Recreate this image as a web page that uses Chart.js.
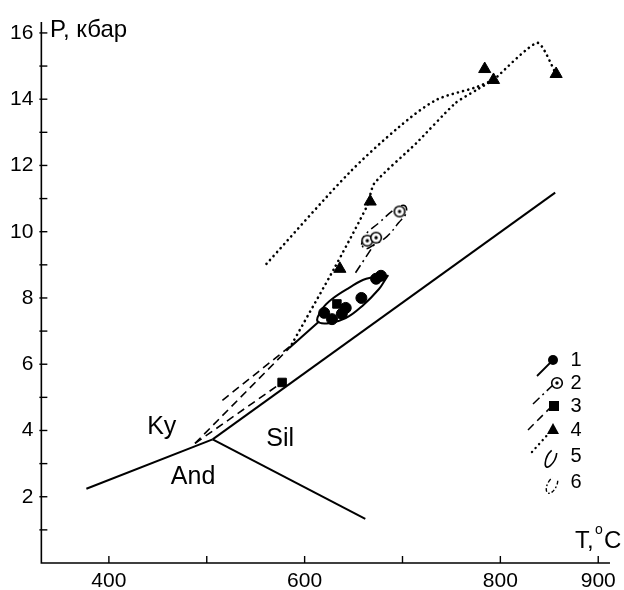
<!DOCTYPE html>
<html>
<head>
<meta charset="utf-8">
<script src="https://cdn.jsdelivr.net/npm/chart.js@4"></script>
<style>
  html, body { margin: 0; padding: 0; background: #fff; }
</style>
</head>
<body>
<canvas id="ptChart" width="624" height="590"></canvas>
<script>
// Al2SiO5 phase boundaries (T, °C / P, kbar)
const kyAndT = [377, 506], kyAndP = [2.24, 3.73];
const andSilT = [506, 662], andSilP = [3.73, 1.33];
const kySilT = [506, 856], kySilP = [3.73, 11.18];

// 1 - filled circles
const circT = [620, 628, 638, 642, 658, 673, 678];
const circP = [7.55, 7.36, 7.52, 7.70, 8.00, 8.58, 8.67];
// 2 - open circles with dot
const bullT = [664, 673, 697];
const bullP = [9.73, 9.82, 10.61];
// 3 - squares
const sqT = [577, 633];
const sqP = [5.45, 7.82];
// 4 - triangles
const triT = [636, 667, 784, 793, 857];
const triP = [8.88, 10.91, 14.91, 14.58, 14.76];

// trends
const solid1T = [584, 615], solid1P = [6.48, 7.30];
const dashAT = [488, 584], dashAP = [3.61, 6.48];
const dashBT = [516, 592], dashBP = [4.91, 6.70];
const dashCT = [488, 577], dashCP = [3.61, 5.45];
const dashDotT = [652, 671], dashDotP = [8.76, 9.61];
const dotAT = [561, 645, 696, 734, 775, 793];
const dotAP = [9.03, 11.76, 13.15, 13.97, 14.36, 14.58];
const dotBT = [587, 630, 664, 671, 714, 754, 775, 793];
const dotBP = [6.61, 8.88, 10.79, 11.45, 12.67, 13.88, 14.27, 14.58];
const dotTopT = [793, 838, 857];
const dotTopP = [14.58, 15.70, 14.76];

// fields 5 and 6 (outlines)
const field5T = [685, 663, 645, 628, 618, 613, 625, 642, 659, 676, 683, 685];
const field5P = [8.67, 8.58, 8.30, 7.97, 7.67, 7.30, 7.24, 7.39, 7.76, 8.27, 8.58, 8.67];
const field6T = [658, 662, 676, 693, 702, 704, 696, 684, 671, 662, 658];
const field6P = [9.61, 9.91, 10.27, 10.70, 10.79, 10.58, 10.27, 9.85, 9.61, 9.48, 9.61];

// axes
const xTicks = [400, 500, 600, 700, 800, 900];
const xTickLabels = ['400', '', '600', '', '800', '900'];
const yTicks = [1, 2, 3, 4, 5, 6, 7, 8, 9, 10, 11, 12, 13, 14, 15, 16];
const yTickLabels = ['', '2', '', '4', '', '6', '', '8', '', '10', '', '12', '', '14', '', '16'];

const regionNames = ['Ky', 'And', 'Sil'];
const regionT = [454, 486, 575];
const regionP = [4.09, 2.60, 3.73];

const FONT = 'Liberation Sans, Arial, sans-serif';

function pts(xs, ys) {
    return xs.map((x, i) => ({ x: x, y: ys[i] }));
}

// bullseye marker
const bull = document.createElement('canvas');
bull.width = 14; bull.height = 14;
(function () {
    const c = bull.getContext('2d');
    c.fillStyle = '#fff';
    c.strokeStyle = '#000';
    c.lineWidth = 1.6;
    c.beginPath(); c.arc(7, 7, 5.3, 0, Math.PI * 2); c.fill(); c.stroke();
    c.fillStyle = '#000';
    c.beginPath(); c.arc(7, 7, 1.7, 0, Math.PI * 2); c.fill();
})();

function lineSet(xs, ys, dash, width, cap, tension) {
    return {
        data: pts(xs, ys),
        showLine: true,
        borderColor: '#000',
        borderWidth: width,
        borderDash: dash,
        borderCapStyle: cap || 'butt',
        tension: tension || 0,
        pointRadius: 0,
        fill: false
    };
}

const DOT = [0.1, 5.2];
const DASH = [8, 5];
const DASHDOT = [9, 4, 2, 4];

const datasets = [
    { data: pts(triT, triP), pointStyle: 'triangle', pointRadius: 7, backgroundColor: '#000', borderColor: '#000', borderWidth: 1 },
    { data: pts(sqT, sqP), pointStyle: 'rect', pointRadius: 6, backgroundColor: '#000', borderColor: '#000', borderWidth: 1 },
    { data: pts(bullT, bullP), pointStyle: bull, pointRadius: 7 },
    { data: pts(circT, circP), pointStyle: 'circle', pointRadius: 5.5, backgroundColor: '#000', borderColor: '#000', borderWidth: 1 },
    lineSet(kyAndT, kyAndP, [], 2),
    lineSet(andSilT, andSilP, [], 2),
    lineSet(kySilT, kySilP, [], 2),
    lineSet(solid1T, solid1P, [], 2),
    lineSet(dashAT, dashAP, DASH, 1.6),
    lineSet(dashBT, dashBP, DASH, 1.6),
    lineSet(dashCT, dashCP, DASH, 1.6),
    lineSet(dashDotT, dashDotP, DASHDOT, 1.6),
    lineSet(dotAT, dotAP, DOT, 2.6, 'round', 0.3),
    lineSet(dotBT, dotBP, DOT, 2.6, 'round', 0.2),
    lineSet(dotTopT, dotTopP, DOT, 2.6, 'round', 0.2),
    lineSet(field5T, field5P, [], 2, 'round', 0.4),
    lineSet(field6T, field6P, DASHDOT, 1.5, 'butt', 0.4)
];

// axes lines, inner ticks, texts, legend
const decorPlugin = {
    id: 'decor',
    afterDraw(chart) {
        const ctx = chart.ctx;
        const xs = chart.scales.x, ys = chart.scales.y;
        const a = chart.chartArea;
        ctx.save();
        ctx.strokeStyle = '#000';
        ctx.lineWidth = 1.6;
        ctx.beginPath();
        ctx.moveTo(a.left, a.top);
        ctx.lineTo(a.left, a.bottom);
        ctx.lineTo(a.right, a.bottom);
        ctx.stroke();
        ctx.lineWidth = 1.4;
        yTicks.forEach(v => {
            const py = ys.getPixelForValue(v);
            ctx.beginPath(); ctx.moveTo(a.left - 2, py); ctx.lineTo(a.left + 6, py); ctx.stroke();
        });
        xTicks.forEach(v => {
            const px = xs.getPixelForValue(v);
            ctx.beginPath(); ctx.moveTo(px, a.bottom); ctx.lineTo(px, a.bottom - 7); ctx.stroke();
        });

        ctx.fillStyle = '#000';
        ctx.textBaseline = 'alphabetic';
        ctx.textAlign = 'left';
        ctx.font = '24px ' + FONT;
        ctx.fillText('P, кбар', 50, 37);
        ctx.fillText('T,', 575, 548);
        ctx.fillText('C', 604, 548);
        ctx.font = '14px ' + FONT;
        ctx.fillText('o', 595, 534);

        ctx.font = '25px ' + FONT;
        ctx.textAlign = 'center';
        ctx.textBaseline = 'middle';
        regionNames.forEach((n, i) => {
            ctx.fillText(n, xs.getPixelForValue(regionT[i]), ys.getPixelForValue(regionP[i]));
        });

        // legend
        const lx = 576;
        const rows = [360, 383, 406, 430, 456, 482];
        ctx.font = '20px ' + FONT;
        ctx.textAlign = 'center';
        rows.forEach((ry, i) => ctx.fillText(String(i + 1), lx, ry));

        function seg(x1, y1, x2, y2, dash, w, cap) {
            ctx.save();
            ctx.setLineDash(dash);
            ctx.lineWidth = w;
            ctx.lineCap = cap || 'butt';
            ctx.beginPath(); ctx.moveTo(x1, y1); ctx.lineTo(x2, y2); ctx.stroke();
            ctx.restore();
        }
        seg(537, 376, 552, 361, [], 1.8);
        seg(533, 404, 554, 384, DASHDOT, 1.5);
        seg(528, 430, 551, 407, DASH, 1.5);
        seg(532, 452, 550, 432, DOT, 2.4, 'round');

        ctx.beginPath(); ctx.arc(553, 360, 5, 0, Math.PI * 2); ctx.fill();
        ctx.drawImage(bull, 550, 376);
        ctx.fillRect(549, 401, 10, 10);
        ctx.beginPath(); ctx.moveTo(553, 423); ctx.lineTo(559, 434); ctx.lineTo(547, 434); ctx.closePath(); ctx.fill();

        ctx.save();
        ctx.lineWidth = 1.6;
        ctx.translate(551, 458);
        ctx.rotate(-1.1);
        ctx.beginPath(); ctx.ellipse(0, 0, 10, 4, 0, Math.PI * 0.25, Math.PI * 1.75); ctx.stroke();
        ctx.restore();
        ctx.save();
        ctx.lineWidth = 1.4;
        ctx.setLineDash([4, 2, 1.5, 2]);
        ctx.translate(552, 485);
        ctx.rotate(-1.1);
        ctx.beginPath(); ctx.ellipse(0, 0, 9, 4.5, 0, Math.PI * 0.25, Math.PI * 1.75); ctx.stroke();
        ctx.restore();
        ctx.restore();
    }
};

new Chart(document.getElementById('ptChart'), {
    type: 'scatter',
    data: { datasets: datasets },
    options: {
        responsive: false,
        animation: false,
        devicePixelRatio: 1,
        layout: { padding: { left: 2, top: 22, right: 12, bottom: -10 } },
        plugins: { legend: { display: false }, tooltip: { enabled: false } },
        scales: {
            x: {
                type: 'linear',
                min: 331,
                max: 912,
                afterBuildTicks: s => { s.ticks = xTicks.map(v => ({ value: v })); },
                grid: { display: false, drawTicks: false },
                border: { display: false },
                ticks: {
                    padding: 8,
                    color: '#000',
                    font: { family: FONT, size: 21, lineHeight: 1 },
                    maxRotation: 0,
                    autoSkip: false,
                    callback: v => xTickLabels[xTicks.indexOf(v)] || ''
                }
            },
            y: {
                type: 'linear',
                min: 0,
                max: 16.33,
                afterBuildTicks: s => { s.ticks = yTicks.map(v => ({ value: v })); },
                grid: { display: false, drawTicks: false },
                border: { display: false },
                ticks: {
                    padding: 8,
                    color: '#000',
                    font: { family: FONT, size: 21 },
                    autoSkip: false,
                    callback: v => yTickLabels[yTicks.indexOf(v)] || ''
                }
            }
        }
    },
    plugins: [decorPlugin]
});
</script>
</body>
</html>
